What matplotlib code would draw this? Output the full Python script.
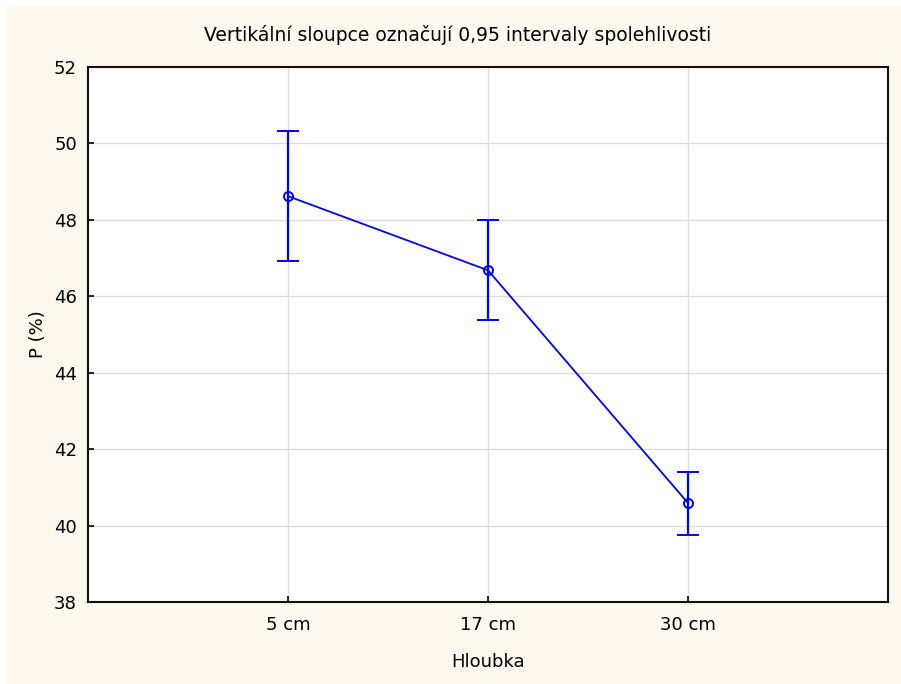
import numpy as np
import matplotlib.pyplot as plt
from matplotlib.patches import Rectangle

plt.rcParams['font.family'] = ['DejaVu Sans']

# data
categories = ['5 cm', '17 cm', '30 cm']
means = [48.62, 46.68, 40.59]
ci_low = [46.93, 45.39, 39.75]
ci_high = [50.32, 47.99, 41.41]

x = np.arange(1, len(categories) + 1)
err = [np.array(means) - np.array(ci_low), np.array(ci_high) - np.array(means)]

fig = plt.figure(figsize=(9.01, 6.84), dpi=100, facecolor='white')
# cream background panel
fig.patches.append(Rectangle((6 / 901, 0), 1, 1 - 7 / 684, transform=fig.transFigure,
                             facecolor='#fdf9ef', edgecolor='none', zorder=-10))

ax = fig.add_axes([88 / 901, 1 - 602 / 684, 800 / 901, 535 / 684])
ax.set_facecolor('white')

ax.errorbar(x, means, yerr=err, color='#0000ff', lw=1.3, marker='o', ms=6.5,
            mfc='none', mec='#0000ff', mew=1.4, capsize=8, capthick=1.6, elinewidth=1.6,
            zorder=3)

ax.set_xlim(0, 4)
ax.set_ylim(38, 52)
ax.set_xticks(x)
ax.set_xticklabels(categories)
ax.set_yticks(np.arange(38, 53, 2))
ax.grid(True, color='#dcdcdc', lw=1)
ax.set_axisbelow(True)
ax.tick_params(direction='in', length=4, width=1.2, labelsize=13, pad=8)
ax.tick_params(axis='x', pad=10)
for s in ax.spines.values():
    s.set_linewidth(1.5)
    s.set_color('#111111')

ax.set_xlabel('Hloubka', fontsize=13, labelpad=14)
ax.set_ylabel('P (%)', fontsize=13, labelpad=5)
fig.text(458 / 901, 1 - 35 / 684, 'Vertikální sloupce označují 0,95 intervaly spolehlivosti',
         fontsize=13.5, ha='center', va='center')

fig.savefig('out.png', dpi=100, facecolor=fig.get_facecolor())
